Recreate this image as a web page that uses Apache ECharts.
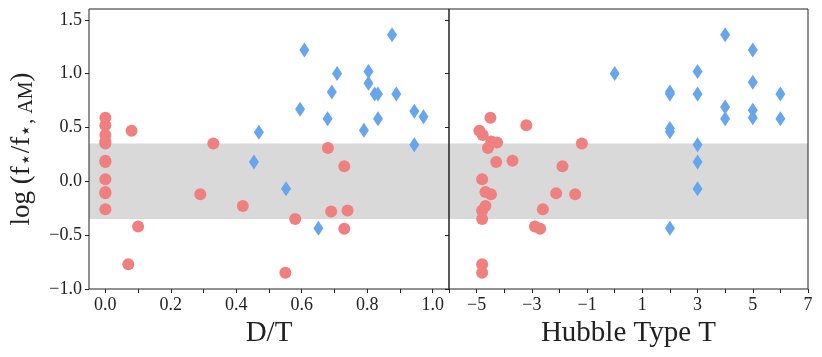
<!DOCTYPE html>
<html>
<head>
<meta charset="utf-8">
<script src="https://cdn.jsdelivr.net/npm/echarts@6/dist/echarts.min.js"></script>
<style>
  html, body { margin: 0; padding: 0; background: #fff; }
  #chart { width: 822px; height: 357px; }
</style>
</head>
<body>
<div id="chart"></div>
<script>
// left panel: D/T
const dtRedX = [0, 0, 0, 0, 0, 0, 0, 0, 0, 0, 0,
  0.08, 0.33, 0.29, 0.42, 0.10, 0.07, 0.55, 0.58, 0.68, 0.73, 0.69, 0.74, 0.73];
const dtRedY = [0.59, 0.52, 0.43, 0.37, 0.35, 0.19, 0.18, 0.02, -0.10, -0.11, -0.26,
  0.47, 0.35, -0.12, -0.23, -0.42, -0.77, -0.85, -0.35, 0.31, 0.14, -0.28, -0.27, -0.44];
const dtBlueX = [0.454, 0.469, 0.552, 0.595, 0.608, 0.651, 0.679, 0.692, 0.708, 0.79,
  0.804, 0.804, 0.823, 0.833, 0.833, 0.876, 0.889, 0.944, 0.944, 0.972];
const dtBlueY = [0.18, 0.455, -0.07, 0.67, 1.22, -0.435, 0.58, 0.83, 1.0, 0.475,
  1.02, 0.91, 0.81, 0.81, 0.58, 1.36, 0.81, 0.65, 0.34, 0.6];

// right panel: Hubble type T
const typeRedX = [-4.5, -4.9, -4.78, -4.47, -4.26, -4.59, -4.29, -3.7, -3.2, -1.19, -1.89, -4.8,
  -4.68, -4.48, -2.12, -1.43, -4.68, -4.8, -4.8, -2.6, -2.89, -2.7, -4.8, -4.8];
const typeRedY = [0.59, 0.47, 0.43, 0.37, 0.36, 0.31, 0.18, 0.19, 0.52, 0.35, 0.14, 0.02,
  -0.10, -0.12, -0.11, -0.12, -0.23, -0.27, -0.35, -0.26, -0.42, -0.44, -0.77, -0.85];
const typeBlueX = [0, 2, 2, 2, 2, 2, 3, 3, 3, 3, 3, 4, 4, 4, 5, 5, 5, 5, 6, 6];
const typeBlueY = [1.0, 0.83, 0.81, 0.49, 0.46, -0.435, 1.02, 0.81, 0.34, 0.18, -0.07,
  1.36, 0.69, 0.58, 1.22, 0.92, 0.66, 0.59, 0.81, 0.58];

const bandLimits = [-0.35, 0.35];
const logTicks = [-1.0, -0.5, 0.0, 0.5, 1.0, 1.5];
const dtTicks = [0.0, 0.2, 0.4, 0.6, 0.8, 1.0];
const dtMinorTicks = [0.0, 0.1, 0.2, 0.3, 0.4, 0.5, 0.6, 0.7, 0.8, 0.9, 1.0];
const typeTicks = [-5, -3, -1, 1, 3, 5, 7];
const typeMinorTicks = [-6, -5, -4, -3, -2, -1, 0, 1, 2, 3, 4, 5, 6, 7];

const RED = '#f08080';
const BLUE = '#67a5ec';
const FONT = 'Liberation Serif';
const INK = '#222';

const zip = (xs, ys) => xs.map((x, i) => [x, ys[i]]);
const minus = (s) => s.replace('-', '\u2212');

function xAxisFor(grid, min, max, labels, ticks, name, fmt) {
    return {
        type: 'value', gridIndex: grid, min, max, position: 'bottom',
        name, nameLocation: 'middle', nameGap: 28,
        nameTextStyle: { fontFamily: FONT, fontSize: 29, color: INK },
        axisLine: { show: false, onZero: false },
        axisTick: { show: true, customValues: ticks, length: 4, lineStyle: { color: INK } },
        axisLabel: { customValues: labels, formatter: fmt, margin: 7,
            fontFamily: FONT, fontSize: 18, color: INK },
        splitLine: { show: false },
    };
}

function yAxisFor(grid, showLabels) {
    return {
        type: 'value', gridIndex: grid, min: -1.0, max: 1.6, position: 'left',
        name: showLabels ? '{n|log (f}{s|\u22c6}{n|/f}{s|\u22c6, AM}{n|)}' : '',
        nameLocation: 'middle', nameGap: 52,
        nameTextStyle: {
            fontFamily: FONT, color: INK,
            rich: {
                n: { fontFamily: FONT, fontSize: 27, color: INK, lineHeight: 30 },
                s: { fontFamily: FONT, fontSize: 20, color: INK, lineHeight: 30, verticalAlign: 'bottom', padding: [10, 0, 0, 0] },
            },
        },
        axisLine: { show: false, onZero: false },
        axisTick: { show: true, customValues: logTicks, length: 4, lineStyle: { color: INK } },
        axisLabel: { show: showLabels, customValues: logTicks, margin: 7,
            formatter: (v) => minus(v.toFixed(1)),
            fontFamily: FONT, fontSize: 18, color: INK },
        splitLine: { show: false },
    };
}

function band(i) {
    return {
        type: 'scatter', xAxisIndex: i, yAxisIndex: i, data: [], z: 1, silent: true,
        markArea: {
            silent: true,
            itemStyle: { color: '#d9d9d9' },
            data: [[{ yAxis: bandLimits[0] }, { yAxis: bandLimits[1] }]],
        },
    };
}

function dots(i, xs, ys) {
    return { type: 'scatter', xAxisIndex: i, yAxisIndex: i, data: zip(xs, ys), z: 3,
        symbol: 'circle', symbolSize: 12, itemStyle: { color: RED, opacity: 1 } };
}

function diamonds(i, xs, ys) {
    return { type: 'scatter', xAxisIndex: i, yAxisIndex: i, data: zip(xs, ys), z: 3,
        symbol: 'diamond', symbolSize: [10, 15], itemStyle: { color: BLUE, opacity: 1 } };
}

const chart = echarts.init(document.getElementById('chart'), null, { renderer: 'canvas' });
chart.setOption({
    animation: false,
    backgroundColor: '#fff',
    grid: [
        { left: 89, top: 9, width: 360, height: 280, show: true, borderColor: INK, borderWidth: 1, z: 5 },
        { left: 449, top: 9, width: 359, height: 280, show: true, borderColor: INK, borderWidth: 1, z: 5 },
    ],
    xAxis: [
        xAxisFor(0, -0.05, 1.05, dtTicks, dtMinorTicks, 'D/T', (v) => v.toFixed(1)),
        xAxisFor(1, -6, 7, typeTicks, typeMinorTicks, 'Hubble Type T', (v) => minus(String(v))),
    ],
    yAxis: [yAxisFor(0, true), yAxisFor(1, false)],
    series: [
        band(0), band(1),
        diamonds(0, dtBlueX, dtBlueY),
        dots(0, dtRedX, dtRedY),
        diamonds(1, typeBlueX, typeBlueY),
        dots(1, typeRedX, typeRedY),
    ],
});
</script>
</body>
</html>
